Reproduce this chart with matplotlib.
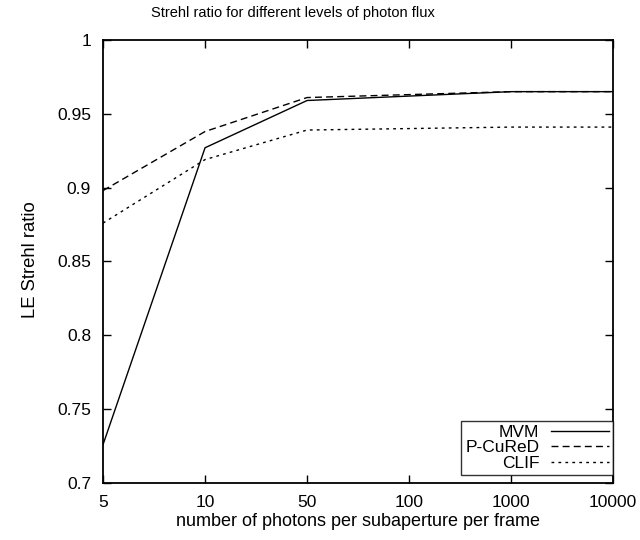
import matplotlib
matplotlib.use("Agg")
import matplotlib.pyplot as plt

plt.rcParams['font.family'] = ['Liberation Sans', 'DejaVu Sans']

photons = ["5", "10", "50", "100", "1000", "10000"]
mvm = [0.726, 0.927, 0.959, 0.962, 0.965, 0.965]
pcured = [0.898, 0.938, 0.961, 0.963, 0.965, 0.965]
clif = [0.876, 0.919, 0.939, 0.940, 0.941, 0.941]

fig = plt.figure(figsize=(6.4, 5.4), dpi=100)
ax = fig.add_axes([0.161, 0.1056, 0.797, 0.8204])

xs = list(range(len(photons)))
ax.plot(xs, mvm, color="black", linewidth=1.0, linestyle="-", label="MVM")
ax.plot(xs, pcured, color="black", linewidth=1.0, linestyle=(0, (5, 3)), label="P-CuReD")
ax.plot(xs, clif, color="black", linewidth=1.0, linestyle=(0, (2, 3)), label="CLIF")

ax.set_xlim(0, len(photons) - 1)
ax.set_ylim(0.7, 1.0)
ax.set_xticks(xs)
ax.set_xticklabels(photons)
ax.set_yticks([0.7, 0.75, 0.8, 0.85, 0.9, 0.95, 1.0])
ax.set_yticklabels(["0.7", "0.75", "0.8", "0.85", "0.9", "0.95", "1"])
ax.tick_params(direction="in", top=True, right=True, length=5.8, width=1,
               labelsize=12.5)
ax.tick_params(axis="y", pad=8.6)
ax.tick_params(axis="x", pad=9)
for s in ax.spines.values():
    s.set_linewidth(1.3)

# title sits left of the axes centre, like the original
fig.text(0.458, 0.976, "Strehl ratio for different levels of photon flux",
         fontsize=10.5, ha="center", va="center")
ax.set_xlabel("number of photons per subaperture per frame", fontsize=13, va="center")
ax.xaxis.set_label_coords(0.5, -0.088)
ax.set_ylabel("LE Strehl ratio", fontsize=13.3, va="center")
ax.yaxis.set_label_coords(-0.143, 0.505)

leg = ax.legend(loc="lower right", bbox_to_anchor=(1.0, 8 / 443),
                markerfirst=False, fontsize=12.5,
                frameon=True, fancybox=False, borderaxespad=0,
                handlelength=3.3, labelspacing=0.0, borderpad=0.25,
                handletextpad=0.7)
leg.get_frame().set_edgecolor("black")
leg.get_frame().set_linewidth(1.0)
for t in leg.get_texts():
    t.set_ha("right")
leg._legend_box.align = "right"

fig.savefig("out.png", dpi=100)
